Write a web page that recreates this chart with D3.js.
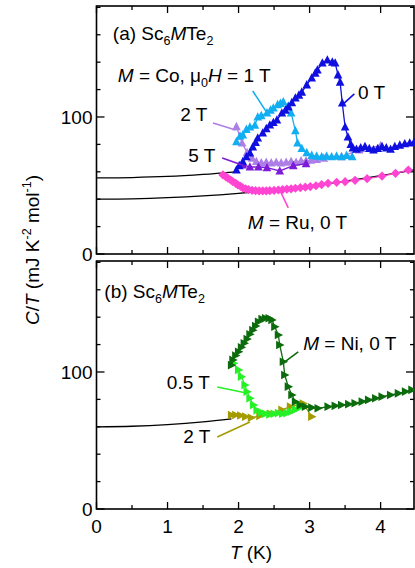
<!DOCTYPE html>
<html>
<head>
<meta charset="utf-8">
<script src="https://cdn.jsdelivr.net/npm/d3@7"></script>
<style>
  body { margin: 0; background: #fff; }
  svg { font-family: "Liberation Sans", Arial, sans-serif; }
</style>
</head>
<body>
<div id="chart"></div>
<script>
// ---- data: T in K, C/T in mJ K^-2 mol^-1 ----

// panel (a) Sc6CoTe2, 0 T
const coZeroT = [1.97, 2.01, 2.06, 2.11, 2.16, 2.20, 2.24, 2.27, 2.34, 2.39, 2.44, 2.49, 2.54, 2.61, 2.66, 2.70, 2.75, 2.80, 2.85, 2.89, 2.96, 3.03, 3.08, 3.11, 3.18, 3.25, 3.32, 3.36, 3.40, 3.43, 3.46, 3.50, 3.54, 3.58, 3.61, 3.66, 3.72, 3.78, 3.84, 3.90, 3.96, 4.02, 4.08, 4.14, 4.20, 4.27, 4.34, 4.41, 4.47];
const coZeroC = [61.3, 64.5, 67.4, 71, 73.7, 78.1, 81.5, 84.7, 88.3, 91.5, 94.2, 96, 97.8, 102.9, 105, 107.3, 110.5, 113.9, 116, 118.2, 123.4, 128.5, 132, 134.3, 139.4, 141.6, 140.1, 139.4, 130.7, 125.5, 110.2, 92.7, 85.4, 80, 77.4, 76.5, 77.5, 78.5, 77, 76, 77, 78.5, 77.5, 76.5, 78.5, 79.5, 80.5, 81, 81.5];

// Co, 1 T
const coOneT = [1.97, 2.02, 2.06, 2.11, 2.16, 2.23, 2.27, 2.32, 2.40, 2.45, 2.49, 2.55, 2.59, 2.63, 2.70, 2.74, 2.80, 2.83, 2.89, 2.96, 3.03, 3.10, 3.17, 3.24, 3.31, 3.38, 3.45, 3.52, 3.60];
const coOneC = [82, 86, 87, 91, 92.7, 94, 100, 101, 103, 105, 106.6, 109, 110, 111, 108, 103, 90, 81, 77, 74, 72, 71.5, 71, 71.5, 71, 71.5, 71, 72, 71];

// Co, 2 T
const coTwoT = [1.97, 2.05, 2.12, 2.19, 2.25, 2.32, 2.39, 2.46, 2.53, 2.60, 2.67, 2.74, 2.81, 2.88, 2.95, 3.02, 3.10, 3.20, 3.45, 3.70, 4.00];
const coTwoC = [93, 81, 74, 70, 67.5, 66.5, 67, 66.5, 67, 66.5, 67, 67.5, 67, 68, 68, 68.5, 69, 70, 71, 76, 79];

// Co, 5 T
const coFiveT = [2.06, 2.16, 2.28, 2.40, 2.58, 2.77, 2.95];
const coFiveC = [65, 63.5, 63.5, 63, 60.6, 64.5, 66];

// Sc6RuTe2, 0 T
const ruT = [1.78, 1.82, 1.85, 1.89, 1.92, 1.96, 1.99, 2.03, 2.06, 2.10, 2.14, 2.19, 2.24, 2.29, 2.34, 2.39, 2.44, 2.50, 2.56, 2.62, 2.68, 2.74, 2.80, 2.87, 2.94, 3.01, 3.09, 3.17, 3.26, 3.38, 3.50, 3.64, 3.81, 4.02, 4.21, 4.39];
const ruC = [57.7, 56.5, 55.3, 54, 52.8, 51.6, 50.5, 49.3, 48.3, 47.5, 47, 46.5, 46.2, 46, 46, 46.1, 46.2, 46.4, 46.7, 47, 47.3, 47.6, 48, 48.4, 48.8, 49.2, 49.8, 50.7, 51.6, 52.3, 52.8, 53.8, 55, 56.9, 58.9, 61.3];

// normal-state curves in panel (a)
const fitCoT = [0, 0.5, 1, 1.5, 1.97];
const fitCoC = [55.5, 55.8, 56.6, 58.1, 60];
const fitRuT = [0, 0.5, 1, 1.5, 2, 2.5, 3, 3.5, 4, 4.47];
const fitRuC = [40, 40.3, 41.1, 42.4, 44.3, 46.7, 49.6, 53.1, 57.1, 61.4];

// panel (b) Sc6NiTe2, 0 T
const niZeroT = [1.90, 1.92, 1.96, 2.00, 2.04, 2.08, 2.12, 2.16, 2.20, 2.24, 2.28, 2.33, 2.38, 2.43, 2.47, 2.51, 2.56, 2.58, 2.63, 2.65, 2.70, 2.75, 2.80, 2.87, 2.94, 3.03, 3.12, 3.26, 3.36, 3.45, 3.55, 3.64, 3.74, 3.83, 3.93, 4.02, 4.14, 4.25, 4.35, 4.44];
const niZeroC = [105, 108.8, 112, 114.8, 118, 121, 124, 127.5, 130.5, 133.5, 136.7, 138.7, 139.2, 139.2, 138, 133, 127, 119.7, 107.5, 97.8, 89.3, 83.2, 78.3, 75.8, 74.7, 74, 73.5, 74.7, 75.3, 75.9, 76.5, 77.2, 78.4, 79.6, 80.8, 82, 83.2, 84.4, 85.7, 86.9];

// Ni, 0.5 T
const niHalfT = [1.93, 2.00, 2.04, 2.09, 2.12, 2.16, 2.21, 2.26, 2.32, 2.38, 2.44, 2.50, 2.56, 2.62, 2.68, 2.74, 2.80, 2.86];
const niHalfC = [106.3, 101.5, 96.6, 90.5, 85.6, 80.8, 75.9, 72, 70.5, 69.5, 69, 69.5, 70, 69.5, 70, 71, 72.5, 74];

// Ni, 2 T
const niTwoT = [1.90, 1.96, 2.03, 2.10, 2.18, 2.30, 2.45, 2.61, 2.73, 2.91, 3.03];
const niTwoC = [68.6, 68.6, 68.2, 67.4, 66.6, 68, 69.5, 72.3, 74.7, 77, 67.4];

// normal-state curve in panel (b)
const fitNiT = [0, 0.5, 1, 1.5, 1.9];
const fitNiC = [60, 60.4, 61.6, 63.6, 65.8];

const xTicks = [0, 1, 2, 3, 4];
const yTicks = [0, 100];

// ---- layout ----
const width = 415, height = 568;
const left = 96.5, right = 414;
const panels = [
  { id: "a", top: 6, bottom: 254 },
  { id: "b", top: 261, bottom: 509 }
];
const fs = 19;

let svg = d3.select("#chart").append("svg")
  .attr("width", width)
  .attr("height", height);

let x = d3.scaleLinear().domain([0, 4.47]).range([left, right]);
let yA = d3.scaleLinear().domain([0, 181]).range([panels[0].bottom, panels[0].top]);
let yB = d3.scaleLinear().domain([0, 181]).range([panels[1].bottom, panels[1].top]);

function zip(ts, cs) { return ts.map((t, i) => [t, cs[i]]); }

// marker shapes
function triUp(s) { return `M0,${-s}L${s * 0.9},${s * 0.75}L${-s * 0.9},${s * 0.75}Z`; }
function triRight(s) { return `M${s},0L${-s * 0.75},${s * 0.9}L${-s * 0.75},${-s * 0.9}Z`; }
function diamond(s) { return `M0,${-s}L${s},0L0,${s}L${-s},0Z`; }

// text with italic / sub / sup parts
function rich(g, parts) {
  parts.forEach(p => {
    let ts = g.append("tspan").text(p[0]);
    if (p[1] === "i") ts.attr("font-style", "italic");
    if (p[1] === "sub") ts.attr("font-size", fs * 0.66).attr("dy", 5);
    if (p[1] === "sup") ts.attr("font-size", fs * 0.66).attr("dy", -8);
    if (p[1] === "back") ts.attr("dy", -5);
    if (p[1] === "up") ts.attr("dy", 8);
    if (p[1] === "iback") ts.attr("font-style", "italic").attr("dy", -5);
  });
}

// frames + ticks (all pointing inward)
panels.forEach((p, k) => {
  let y = k === 0 ? yA : yB;
  let g = svg.append("g");

  d3.range(0, 4.47, 0.5).forEach(t => {
    let len = Number.isInteger(t) ? 7 : 4;
    g.append("line").attr("x1", x(t)).attr("x2", x(t))
      .attr("y1", p.bottom).attr("y2", p.bottom - len)
      .attr("stroke", "#000").attr("stroke-width", 1.3);
    g.append("line").attr("x1", x(t)).attr("x2", x(t))
      .attr("y1", p.top).attr("y2", p.top + len)
      .attr("stroke", "#000").attr("stroke-width", 1.3);
  });
  d3.range(0, 181, 20).forEach(v => {
    let len = (v % 100 === 0) ? 8 : 4;
    g.append("line").attr("x1", left).attr("x2", left + len)
      .attr("y1", y(v)).attr("y2", y(v))
      .attr("stroke", "#000").attr("stroke-width", 1.3);
    g.append("line").attr("x1", right).attr("x2", right - len)
      .attr("y1", y(v)).attr("y2", y(v))
      .attr("stroke", "#000").attr("stroke-width", 1.3);
  });

  g.append("rect")
    .attr("x", left).attr("y", p.top)
    .attr("width", right - left).attr("height", p.bottom - p.top)
    .attr("fill", "none").attr("stroke", "#000").attr("stroke-width", 1.6);

  g.selectAll(".ylab").data(yTicks).enter().append("text")
    .attr("x", left - 4).attr("y", d => y(d) + 7)
    .attr("text-anchor", "end").attr("font-size", fs)
    .text(d => d);
});

// x tick labels under panel (b)
svg.selectAll(".xlab").data(xTicks).enter().append("text")
  .attr("x", d => x(d)).attr("y", panels[1].bottom + 24)
  .attr("text-anchor", "middle").attr("font-size", fs)
  .text(d => d);

// axis titles
let xt = svg.append("text").attr("x", 251).attr("y", 559)
  .attr("text-anchor", "middle").attr("font-size", fs);
rich(xt, [["T", "i"], [" (K)", ""]]);

let yt = svg.append("text")
  .attr("transform", "translate(39,250) rotate(-90)")
  .attr("text-anchor", "middle").attr("font-size", fs);
rich(yt, [["C", "i"], ["/", ""], ["T", "i"], [" (mJ K", ""], ["-2", "sup"], [" mol", "up"], ["-1", "sup"], [")", "up"]]);

// series
function drawSeries(y, data, color, shape, size) {
  svg.append("path")
    .datum(data)
    .attr("fill", "none").attr("stroke", color).attr("stroke-width", 1.3)
    .attr("d", d3.line().x(d => x(d[0])).y(d => y(d[1])));
  svg.append("g").selectAll("path").data(data).enter().append("path")
    .attr("transform", d => `translate(${x(d[0])},${y(d[1])})`)
    .attr("d", shape(size))
    .attr("fill", color);
}

function drawFit(y, data) {
  svg.append("path").datum(data)
    .attr("fill", "none").attr("stroke", "#000").attr("stroke-width", 1.3)
    .attr("d", d3.line().curve(d3.curveMonotoneX).x(d => x(d[0])).y(d => y(d[1])));
}

drawFit(yA, zip(fitCoT, fitCoC));
drawFit(yA, zip(fitRuT, fitRuC));
drawSeries(yA, zip(ruT, ruC), "#ff45d2", diamond, 4.6);
drawSeries(yA, zip(coTwoT, coTwoC), "#ad7fe6", triUp, 4.8);
drawSeries(yA, zip(coOneT, coOneC), "#12aef2", triUp, 4.8);
drawSeries(yA, zip(coFiveT, coFiveC), "#7d1cd8", triUp, 4.8);
drawSeries(yA, zip(coZeroT, coZeroC), "#0f0fe0", triUp, 4.8);

drawFit(yB, zip(fitNiT, fitNiC));
drawSeries(yB, zip(niTwoT, niTwoC), "#a39b00", triRight, 4.8);
drawSeries(yB, zip(niHalfT, niHalfC), "#26f026", triRight, 4.8);
drawSeries(yB, zip(niZeroT, niZeroC), "#0c6b0c", triRight, 4.8);

// labels and pointer lines (positions in data units of each panel)
const notes = [
  { y: yA, at: [0.23, 156], parts: [["(a) Sc", ""], ["6", "sub"], ["M", "iback"], ["Te", ""], ["2", "sub"]] },
  { y: yA, at: [0.30, 125.5], parts: [["M", "i"], [" = Co, μ", ""], ["0", "sub"], ["H", "iback"], [" = 1 T", ""]],
    line: [[2.20, 119], [2.40, 103]], color: "#12aef2" },
  { y: yA, at: [1.18, 97.1], parts: [["2 T", ""]], line: [[1.64, 95.6], [1.96, 90.5]], color: "#ad7fe6" },
  { y: yA, at: [3.68, 113.1], parts: [["0 T", ""]], line: [[3.63, 116.8], [3.46, 108.8]], color: "#0f0fe0" },
  { y: yA, at: [1.29, 67.2], parts: [["5 T", ""]], line: [[1.77, 70.1], [2.09, 64.2]], color: "#7d1cd8" },
  { y: yA, at: [2.13, 18.2], parts: [["M", "i"], [" = Ru, 0 T", ""]], line: [[2.70, 33.6], [2.58, 46.7]], color: "#ff45d2" },
  { y: yB, at: [0.11, 154], parts: [["(b) Sc", ""], ["6", "sub"], ["M", "iback"], ["Te", ""], ["2", "sub"]] },
  { y: yB, at: [2.91, 116.1], parts: [["M", "i"], [" = Ni, 0 T", ""]], line: [[2.84, 114.6], [2.65, 107.3]], color: "#0c6b0c" },
  { y: yB, at: [0.99, 87.6], parts: [["0.5 T", ""]], line: [[1.70, 89.1], [2.11, 84.7]], color: "#26f026" },
  { y: yB, at: [1.22, 48.2], parts: [["2 T", ""]], line: [[1.70, 52.6], [2.16, 63.5]], color: "#a39b00" }
];

notes.forEach(n => {
  if (n.line) {
    svg.append("line")
      .attr("x1", x(n.line[0][0])).attr("y1", n.y(n.line[0][1]))
      .attr("x2", x(n.line[1][0])).attr("y2", n.y(n.line[1][1]))
      .attr("stroke", n.color).attr("stroke-width", 1.6);
  }
  let t = svg.append("text")
    .attr("x", x(n.at[0])).attr("y", n.y(n.at[1]))
    .attr("font-size", fs);
  rich(t, n.parts);
});
</script>
</body>
</html>
